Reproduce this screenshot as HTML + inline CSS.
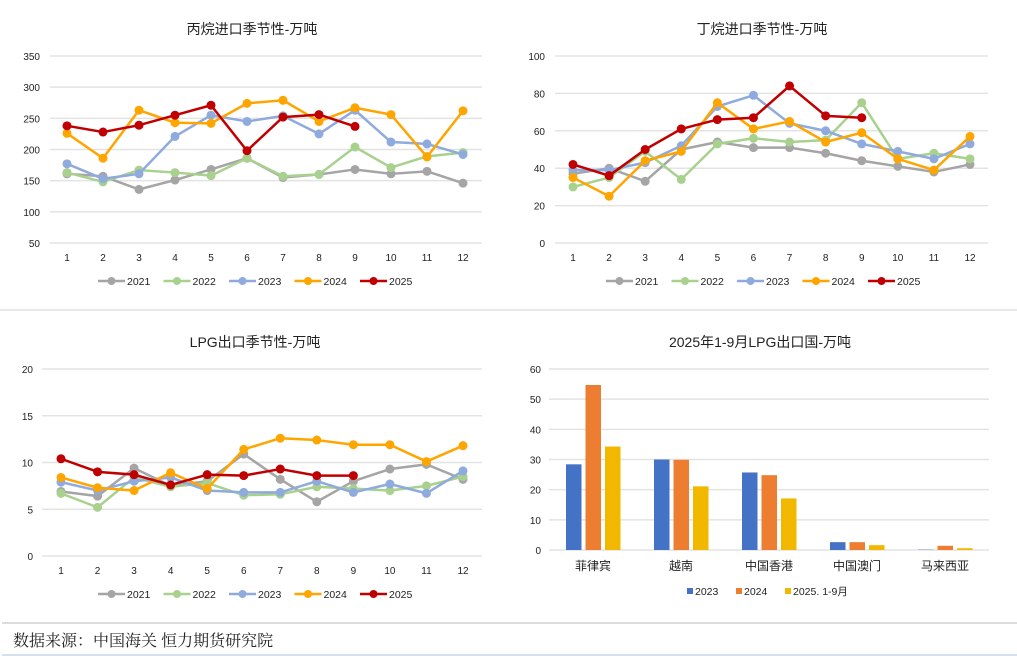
<!DOCTYPE html>
<html><head><meta charset="utf-8">
<style>
body{margin:0;background:#fff;width:1017px;height:663px;overflow:hidden;font-family:"Liberation Sans","Noto Sans CJK SC",sans-serif;}
svg{position:absolute;left:0;top:0}
text{font-family:"Liberation Sans","Noto Sans CJK SC",sans-serif;fill:#222}
</style></head><body>
<svg id="s" width="1017" height="663">
<line x1="0" y1="310" x2="1017" y2="310" stroke="#d0d0d0"/>
<line x1="2" y1="623" x2="1017" y2="623" stroke="#b8b8b8"/>
<line x1="2" y1="655" x2="1017" y2="655" stroke="#a8bfe0"/>
<text x="13" y="646" font-size="16" style="font-family:'Noto Serif CJK SC',serif">数据来源：中国海关 恒力期货研究院</text>
</svg>
<script>
const months=[1,2,3,4,5,6,7,8,9,10,11,12];
const years=['2021','2022','2023','2024','2025'];
const propane2021=[161,157,136,151,168,186,155,160,168,161,165,146];
const propane2022=[163,148,167,163,158,186,157,160,204,171,189,195];
const propane2023=[177,153,161,221,255,245,254,225,263,212,209,192];
const propane2024=[226,186,263,243,242,274,279,245,267,256,188,262];
const propane2025=[238,228,239,255,271,198,252,256,237];
const butane2021=[37,40,33,50,54,51,51,48,44,41,38,42];
const butane2022=[30,35,49,34,53,56,54,55,75,45,48,45];
const butane2023=[39,39,43,52,73,79,64,60,53,49,45,53];
const butane2024=[35,25,44,49,75,61,65,54,59,45,39,57];
const butane2025=[42,36,50,61,66,67,84,68,67];
const lpg2021=[6.9,6.4,9.4,7.5,8.0,10.9,8.2,5.8,8.0,9.3,9.8,8.2];
const lpg2022=[6.7,5.2,8.4,7.4,7.8,6.5,6.6,7.4,7.2,7.0,7.5,8.5];
const lpg2023=[7.9,7.0,8.0,8.4,7.0,6.8,6.8,8.0,6.8,7.7,6.7,9.1];
const lpg2024=[8.4,7.3,7.0,8.9,7.2,11.4,12.6,12.4,11.9,11.9,10.1,11.8];
const lpg2025=[10.4,9.0,8.7,7.6,8.7,8.6,9.3,8.6,8.6];
const propaneTicks=[50,100,150,200,250,300,350];
const butaneTicks=[0,20,40,60,80,100];
const lpgTicks=[0,5,10,15,20];
const countries=['菲律宾','越南','中国香港','中国澳门','马来西亚'];
const bar2023=[28.4,30.0,25.7,2.6,0.1];
const bar2024=[54.7,29.9,24.8,2.6,1.4];
const bar2025=[34.3,21.1,17.1,1.6,0.6];
const barTicks=[0,10,20,30,40,50,60];
const barSeries=['2023','2024','2025. 1-9月'];

const NS='http://www.w3.org/2000/svg';
const svg=document.getElementById('s');
const colors=['#a5a5a5','#a9d18e','#8faadc','#ffa500','#c00000'];
function mk(tag,attrs,parent){const e=document.createElementNS(NS,tag);for(const k in attrs)e.setAttribute(k,attrs[k]);(parent||svg).appendChild(e);return e;}

function lineChart(cfg){
  const g=mk('g',{});
  
  
  const ymin=cfg.ticks[0],ymax=cfg.ticks[cfg.ticks.length-1];
  const Y=v=>cfg.y0-(v-ymin)/(ymax-ymin)*(cfg.y0-cfg.y1);
  const X=m=>cfg.x1+(m-1)/11*(cfg.x12-cfg.x1);
  const t=mk('text',{x:cfg.tx,y:cfg.ty,'font-size':14,'text-anchor':'middle'},g);t.textContent=cfg.title;
  
  
  cfg.ticks.forEach(v=>{
    const l=mk('line',{x1:cfg.gx0,x2:cfg.gx1,y1:Y(v),y2:Y(v),stroke:'#e3e3e3','stroke-width':1.5},g);
    
    
    const tt=mk('text',{x:cfg.lx,y:Y(v)+4,'font-size':10,'text-anchor':'end'},g);tt.textContent=v;
    
    
  });
  months.forEach(m=>{
    const tt=mk('text',{x:X(m),y:cfg.y0+18,'font-size':10,'text-anchor':'middle'},g);tt.textContent=m;
    
    
  });
  cfg.series.forEach((d,i)=>{
    const p=mk('polyline',{points:d.map((v,j)=>X(months[j])+','+Y(v)).join(' '),fill:'none',stroke:colors[i],'stroke-width':2.5,'stroke-linejoin':'round'},g);
    
    
    d.forEach((v,j)=>{
      const c=mk('circle',{cx:X(months[j]),cy:Y(v),r:4.5,fill:colors[i]},g);
      
      
    });
  });
  years.forEach((yr,i)=>{
    const lx=cfg.legx+i*65.5;
    const lg=mk('g',{},g);
    
    
    mk('line',{x1:lx,x2:lx+27,y1:cfg.legy,y2:cfg.legy,stroke:colors[i],'stroke-width':2.5},lg);
    mk('circle',{cx:lx+13.5,cy:cfg.legy,r:4,fill:colors[i]},lg);
    const tt=mk('text',{x:lx+29,y:cfg.legy+4,'font-size':10.5},lg);tt.textContent=yr;
  });
}
lineChart({name:'propane-import-chart',title:'丙烷进口季节性-万吨',tx:252,ty:34,ticks:propaneTicks,y0:243,y1:56,x1:67,x12:463,gx0:50,gx1:482,lx:40,
  series:[propane2021,propane2022,propane2023,propane2024,propane2025],legx:98,legy:281});
lineChart({name:'butane-import-chart',title:'丁烷进口季节性-万吨',tx:762,ty:34,ticks:butaneTicks,y0:243,y1:56,x1:573,x12:970,gx0:555,gx1:988,lx:545,
  series:[butane2021,butane2022,butane2023,butane2024,butane2025],legx:606,legy:281});
lineChart({name:'lpg-export-chart',title:'LPG出口季节性-万吨',tx:255,ty:347,ticks:lpgTicks,y0:556,y1:369,x1:61,x12:463,gx0:42,gx1:482,lx:33,
  series:[lpg2021,lpg2022,lpg2023,lpg2024,lpg2025],legx:98,legy:594});

// bar chart
(function(){
  const g=mk('g',{});
  
  
  const barColors=['#4472c4','#ed7d31','#f2b800'];
  const y0=550,y1=369;
  const Y=v=>y0-v/60*(y0-y1);
  const t=mk('text',{x:760,y:347,'font-size':14,'text-anchor':'middle'},g);t.textContent='2025年1-9月LPG出口国-万吨';
  
  
  barTicks.forEach(v=>{
    const l=mk('line',{x1:549,x2:989,y1:Y(v),y2:Y(v),stroke:'#e3e3e3','stroke-width':1.5},g);
    
    
    const tt=mk('text',{x:541,y:Y(v)+4,'font-size':10,'text-anchor':'end'},g);tt.textContent=v;
    
    
  });
  const data=[bar2023,bar2024,bar2025];
  countries.forEach((c,ci)=>{
    const cx=593+ci*88;
    data.forEach((s,si)=>{
      const x=cx-27+si*19.5;
      const r=mk('rect',{x:x,y:Y(s[ci]),width:15.5,height:y0-Y(s[ci]),fill:barColors[si]},g);
      
      
    });
    const tt=mk('text',{x:cx,y:570,'font-size':12,'text-anchor':'middle'},g);tt.textContent=c;
    
    
  });
  const lxs=[687,736,785];
  barSeries.forEach((s,i)=>{
    const lg=mk('g',{},g);
    
    
    mk('rect',{x:lxs[i],y:588,width:6,height:6,fill:barColors[i]},lg);
    const tt=mk('text',{x:lxs[i]+8,y:595,'font-size':10.5},lg);tt.textContent=s;
  });
})();
</script>
</body></html>
